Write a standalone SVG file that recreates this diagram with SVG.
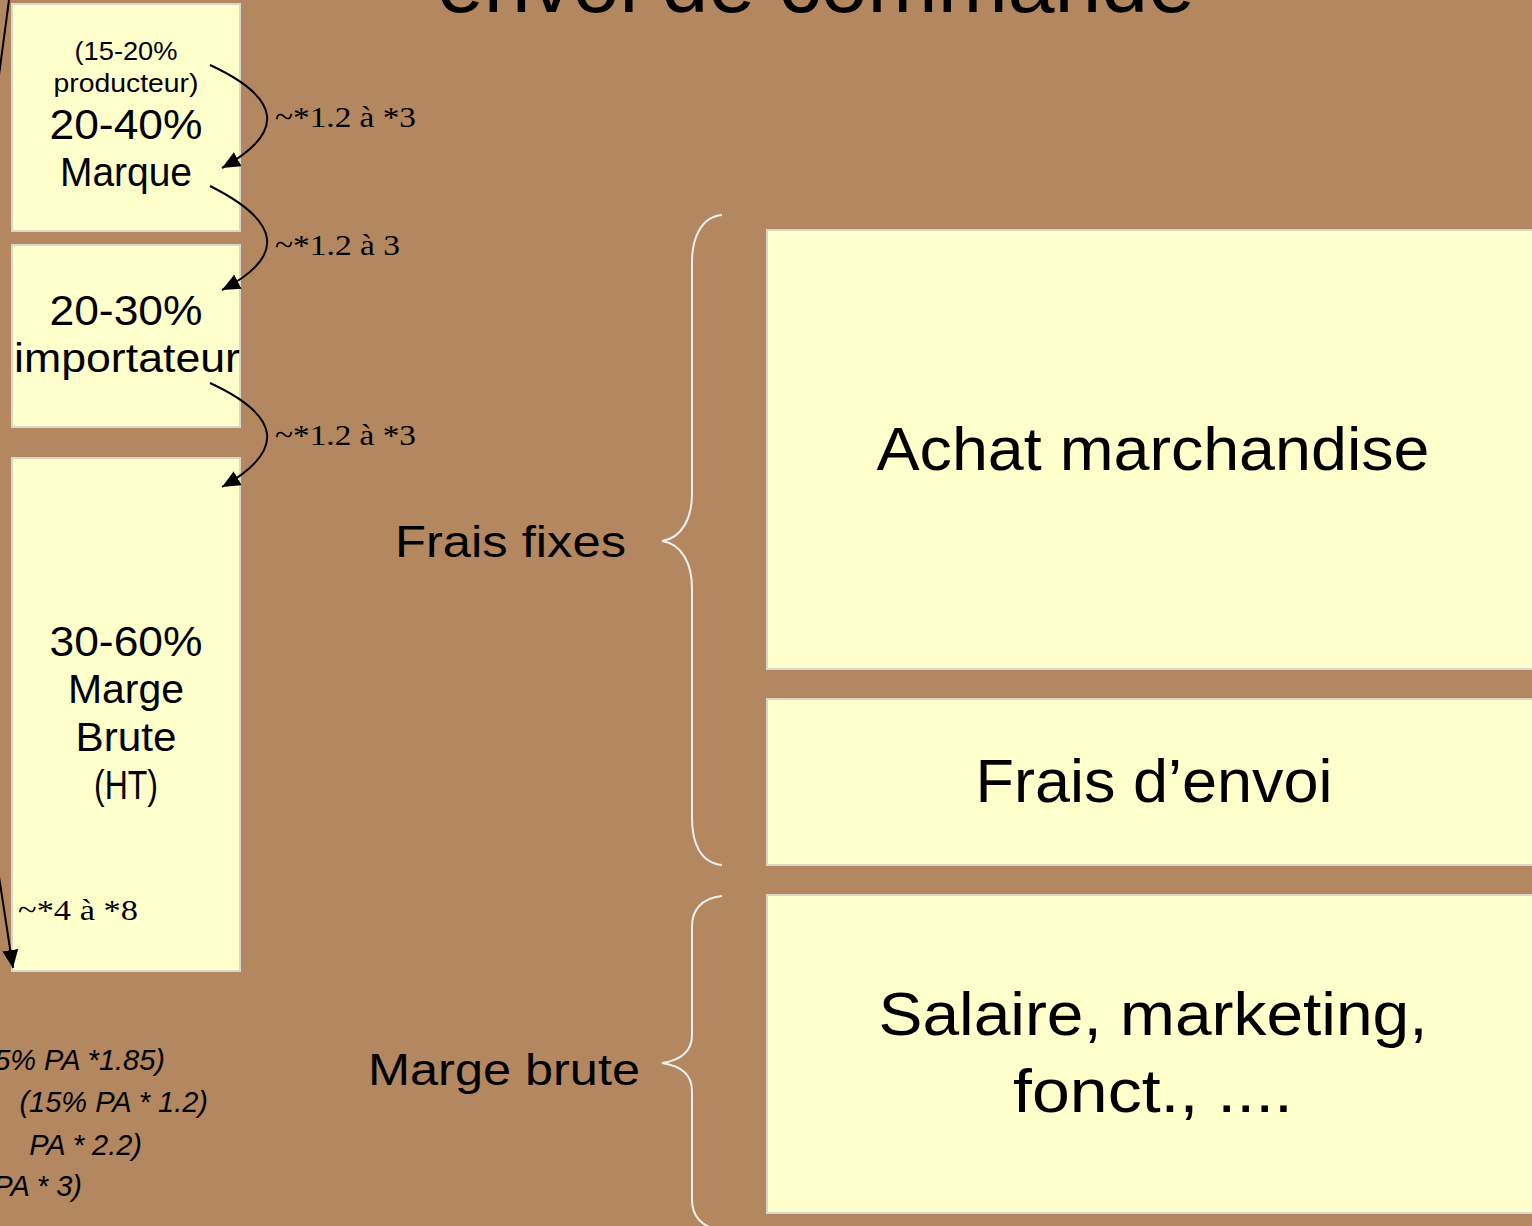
<svg xmlns="http://www.w3.org/2000/svg" width="1532" height="1226" viewBox="0 0 1532 1226">
<defs>
<marker id="ah" markerUnits="userSpaceOnUse" markerWidth="20" markerHeight="16" refX="18" refY="8" orient="auto">
<path d="M0,0 L18,8 L0,16 Z" fill="#000"/>
</marker>
<style>
.box{fill:#ffffcc;stroke:#dcd6c8;stroke-width:2}
.t{font-family:"Liberation Sans",Arial,sans-serif;fill:#000;text-anchor:middle}
.s{font-family:"Liberation Sans",Arial,sans-serif;fill:#000}
.lbl{font-family:"Liberation Serif","Times New Roman",serif;fill:#000;font-size:30px}
.it{font-family:"Liberation Sans",Arial,sans-serif;font-style:italic;fill:#000;font-size:29px;text-anchor:end}
.brace{fill:none;stroke:#eeeeee;stroke-width:2}
.conn{fill:none;stroke:#000;stroke-width:2}
</style>
</defs>
<rect width="1532" height="1226" fill="#b3875f"/>
<text class="t" x="816" y="12" font-size="84" textLength="758" lengthAdjust="spacingAndGlyphs">envoi de commande</text>

<g id="n-marque">
<rect class="box" x="12" y="4" width="228" height="227"/>
<text class="t" x="126" y="60" font-size="25" textLength="103" lengthAdjust="spacingAndGlyphs">(15-20%</text>
<text class="t" x="126" y="92" font-size="25" textLength="145" lengthAdjust="spacingAndGlyphs">producteur)</text>
<text class="t" x="126" y="139" font-size="42" textLength="153" lengthAdjust="spacingAndGlyphs">20-40%</text>
<text class="t" x="126" y="186" font-size="40" textLength="132" lengthAdjust="spacingAndGlyphs">Marque</text>
</g>
<g id="n-importateur">
<rect class="box" x="12" y="245" width="228" height="182"/>
<text class="t" x="126" y="325" font-size="42" textLength="153" lengthAdjust="spacingAndGlyphs">20-30%</text>
<text class="t" x="127" y="372" font-size="40" textLength="226" lengthAdjust="spacingAndGlyphs">importateur</text>
</g>
<g id="n-marge">
<rect class="box" x="12" y="458" width="228" height="513"/>
<text class="t" x="126" y="656" font-size="42" textLength="153" lengthAdjust="spacingAndGlyphs">30-60%</text>
<text class="t" x="126" y="703" font-size="40" textLength="116" lengthAdjust="spacingAndGlyphs">Marge</text>
<text class="t" x="126" y="751" font-size="40" textLength="101" lengthAdjust="spacingAndGlyphs">Brute</text>
<text class="t" x="126" y="799" font-size="40" textLength="64" lengthAdjust="spacingAndGlyphs">(HT)</text>
<text class="lbl" x="18" y="920" textLength="120" lengthAdjust="spacingAndGlyphs">~*4 à *8</text>
</g>

<g id="connectors">
<path class="conn" d="M210,65 Q318,115 222,168" marker-end="url(#ah)"/>
<path class="conn" d="M210,186 Q318,240 222,290" marker-end="url(#ah)"/>
<path class="conn" d="M210,383 Q318,433 222,487" marker-end="url(#ah)"/>
<path class="conn" d="M9,0 L-1,75"/>
<path class="conn" d="M-2,870 L13,968" marker-end="url(#ah)"/>
<path class="brace" d="M722,215 C700,217 692,240 692,262 L692,494 C692,518 682,538 662,541 C682,544 692,564 692,588 L692,818 C692,842 700,863 722,865"/>
<path class="brace" d="M722,896 C700,898 692,912 692,926 L692,1035 C692,1050 682,1060 662,1063 C682,1066 692,1076 692,1091 L692,1200 C692,1214 700,1228 722,1230"/>
</g>
<g id="labels">
<text class="lbl" x="275" y="127" textLength="141" lengthAdjust="spacingAndGlyphs">~*1.2 à *3</text>
<text class="lbl" x="275" y="255" textLength="125" lengthAdjust="spacingAndGlyphs">~*1.2 à 3</text>
<text class="lbl" x="275" y="445" textLength="141" lengthAdjust="spacingAndGlyphs">~*1.2 à *3</text>
<text class="s" x="395" y="557" font-size="44" textLength="231" lengthAdjust="spacingAndGlyphs">Frais fixes</text>
<text class="s" x="368" y="1085" font-size="44" textLength="272" lengthAdjust="spacingAndGlyphs">Marge brute</text>
<text class="it" x="165" y="1070">5% PA *1.85)</text>
<text class="it" x="208" y="1112">(15% PA * 1.2)</text>
<text class="it" x="142" y="1155">PA * 2.2)</text>
<text class="it" x="82" y="1196">PA * 3)</text>
</g>

<g id="n-achat">
<rect class="box" x="767" y="230" width="780" height="439"/>
<text class="t" x="1153" y="470" font-size="62" textLength="553" lengthAdjust="spacingAndGlyphs">Achat marchandise</text>
</g>
<g id="n-envoi">
<rect class="box" x="767" y="699" width="780" height="166"/>
<text class="t" x="1154" y="802" font-size="62" textLength="357" lengthAdjust="spacingAndGlyphs">Frais d’envoi</text>
</g>
<g id="n-salaire">
<rect class="box" x="767" y="895" width="780" height="318"/>
<text class="t" x="1153" y="1035" font-size="62" textLength="549" lengthAdjust="spacingAndGlyphs">Salaire, marketing,</text>
<text class="t" x="1153" y="1112" font-size="62" textLength="280" lengthAdjust="spacingAndGlyphs">fonct., ....</text>
</g>
</svg>
